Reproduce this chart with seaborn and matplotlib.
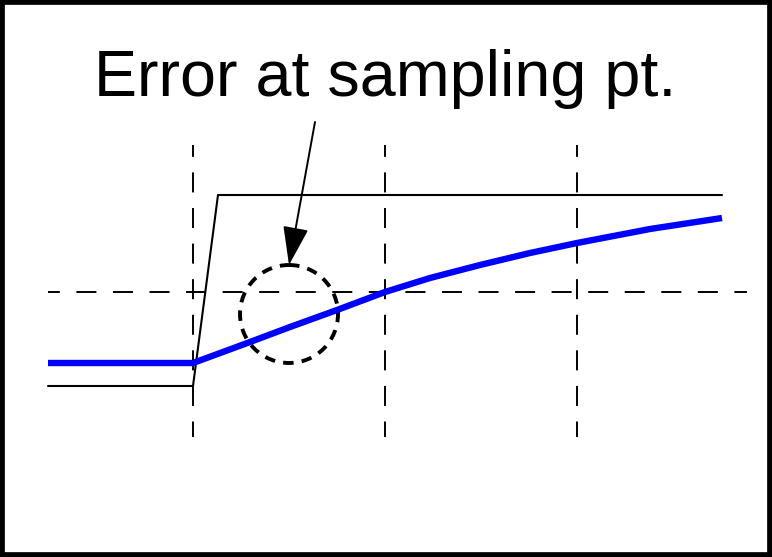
import numpy as np
import pandas as pd
import matplotlib.pyplot as plt
import seaborn as sns
from matplotlib.patches import Circle, Rectangle

# diagram coordinates (pixel-like units, y grows downward)
input_x = [48, 193, 218, 722]
input_y = [386, 386, 195, 195]

resp_x = [48, 193, 250, 290, 337, 385, 430, 480, 530, 577, 650, 722]
resp_y = [363, 363, 342, 327, 310, 292, 278, 265, 253, 243, 229, 218]

sample_x = [193, 385, 577]
sample_top, sample_bottom = 145, 437
ref_y = 292
ref_x = [48, 747]

circle_center = (289, 314)
circle_r = 49
arrow_start = (315, 122)
arrow_end = (289, 265)
title = "Error at sampling pt."

sns.set_style("white")
plt.rcParams['font.family'] = ['Liberation Sans', 'DejaVu Sans']

fig = plt.figure(figsize=(7.72, 5.57), dpi=100)
ax = fig.add_axes([0, 0, 1, 1])
ax.set_xlim(0, 772)
ax.set_ylim(557, 0)
ax.axis('off')

for x in sample_x:
    ax.plot([x, x], [sample_top, sample_bottom], color='black', lw=1.4,
            linestyle=(4.2, (10.3, 8.0)))
ax.plot(ref_x, [ref_y, ref_y], color='black', lw=1.4,
        linestyle=(4.2, (10.3, 8.5)))

inp = pd.DataFrame({'x': input_x, 'y': input_y})
sns.lineplot(data=inp, x='x', y='y', sort=False, estimator=None,
             color='black', lw=1.5, ax=ax)
resp = pd.DataFrame({'x': resp_x, 'y': resp_y})
sns.lineplot(data=resp, x='x', y='y', sort=False, estimator=None,
             color='#0000ff', lw=4.6, solid_capstyle='butt', ax=ax)

ax.add_patch(Circle(circle_center, circle_r, fill=False, color='black',
                    lw=2.8, linestyle=(0, (2.7, 2.1))))

ax.annotate('', xy=arrow_end, xytext=arrow_start,
            arrowprops=dict(arrowstyle='-|>,head_length=2.4,head_width=0.8',
                            color='black', lw=1.4, shrinkA=0, shrinkB=0))

ax.text(385, 96, title, ha='center', va='baseline', fontsize=46.5,
        color='black')

fig.add_artist(Rectangle((0, 0), 1, 1, transform=fig.transFigure, fill=False,
                         edgecolor='black', lw=7))

plt.savefig('out.png', dpi=100)
